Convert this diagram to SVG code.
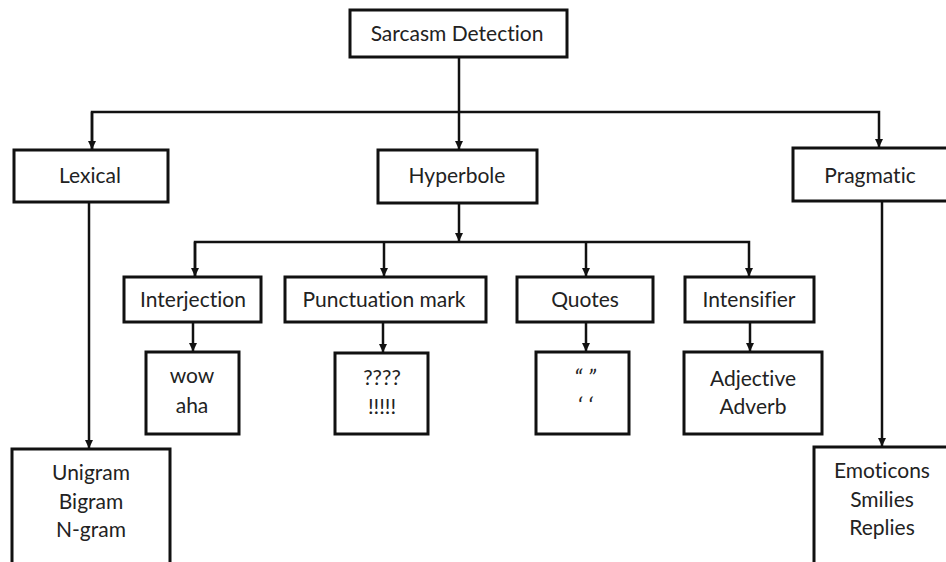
<svg xmlns="http://www.w3.org/2000/svg" width="946" height="562" viewBox="0 0 946 562">
<style>
.box{fill:#fff;stroke:#111;stroke-width:3}
.ln{fill:none;stroke:#111;stroke-width:2.5}
.t{font-family:Lato,"Open Sans","Liberation Sans",sans-serif;font-size:21px;fill:#222;text-anchor:middle;font-variant-ligatures:none;font-feature-settings:"liga" 0}
.q{font-style:italic;font-size:24px}
</style>
<defs>
<marker id="a" markerUnits="userSpaceOnUse" markerWidth="9" markerHeight="9" refX="8" refY="4.5" orient="auto" viewBox="0 0 9 9">
<path d="M0,0.5 L8.5,4.5 L0,8.5 Z" fill="#111"/>
</marker>
</defs>
<rect width="946" height="562" fill="#fff"/>
<g id="connectors">
<line class="ln" x1="459" y1="57" x2="459" y2="149" marker-end="url(#a)"/>
<polyline class="ln" points="92,149 92,112 879,112 879,147" marker-end="url(#a)"/>
<line class="ln" x1="92" y1="112" x2="92" y2="149" marker-end="url(#a)"/>
<line class="ln" x1="89" y1="202" x2="89" y2="448" marker-end="url(#a)"/>
<line class="ln" x1="882" y1="201" x2="882" y2="446" marker-end="url(#a)"/>
<line class="ln" x1="459" y1="203" x2="459" y2="241" marker-end="url(#a)"/>
<polyline class="ln" points="195,276 195,242 749,242 749,276" marker-end="url(#a)"/>
<line class="ln" x1="195" y1="242" x2="195" y2="276" marker-end="url(#a)"/>
<line class="ln" x1="384" y1="242" x2="384" y2="276" marker-end="url(#a)"/>
<line class="ln" x1="586" y1="242" x2="586" y2="276" marker-end="url(#a)"/>
<line class="ln" x1="193" y1="322" x2="193" y2="351" marker-end="url(#a)"/>
<line class="ln" x1="383" y1="322" x2="383" y2="352" marker-end="url(#a)"/>
<line class="ln" x1="586" y1="322" x2="586" y2="351" marker-end="url(#a)"/>
<line class="ln" x1="750" y1="322" x2="750" y2="351" marker-end="url(#a)"/>
</g>
<g id="sarcasm"><rect class="box" x="350" y="10" width="217" height="47"/><text class="t" x="457" y="41">Sarcasm Detection</text></g>
<g id="lexical"><rect class="box" x="14" y="150" width="154" height="52"/><text class="t" x="90" y="183">Lexical</text></g>
<g id="hyperbole"><rect class="box" x="378" y="150" width="159" height="53"/><text class="t" x="457" y="183">Hyperbole</text></g>
<g id="pragmatic"><rect class="box" x="793" y="148" width="160" height="53"/><text class="t" x="870" y="183">Pragmatic</text></g>
<g id="interjection"><rect class="box" x="124" y="277" width="137" height="45"/><text class="t" x="193" y="307">Interjection</text></g>
<g id="punctuation"><rect class="box" x="285" y="277" width="201" height="45"/><text class="t" x="384" y="307">Punctuation mark</text></g>
<g id="quotes"><rect class="box" x="517" y="277" width="136" height="45"/><text class="t" x="585" y="307">Quotes</text></g>
<g id="intensifier"><rect class="box" x="685" y="277" width="129" height="45"/><text class="t" x="749" y="307">Intensifier</text></g>
<g id="wow"><rect class="box" x="146" y="352" width="93" height="82"/><text class="t" x="192" y="383">wow</text><text class="t" x="192" y="413">aha</text></g>
<g id="marks"><rect class="box" x="335" y="353" width="93" height="81"/><text class="t" x="382" y="385">????</text><text class="t" x="382" y="414">!!!!!</text></g>
<g id="quotemarks"><rect class="box" x="536" y="352" width="93" height="82"/><text class="t q" x="585" y="386">“ ”</text><text class="t q" x="585" y="414">‘ ‘</text></g>
<g id="adjective"><rect class="box" x="684" y="352" width="138" height="82"/><text class="t" x="753" y="386">Adjective</text><text class="t" x="753" y="414">Adverb</text></g>
<g id="ngram"><rect class="box" x="12" y="449" width="158" height="120"/><text class="t" x="91" y="480">Unigram</text><text class="t" x="91" y="509">Bigram</text><text class="t" x="91" y="537">N-gram</text></g>
<g id="emoticons"><rect class="box" x="814" y="447" width="140" height="122"/><text class="t" x="882" y="478">Emoticons</text><text class="t" x="882" y="507">Smilies</text><text class="t" x="882" y="535">Replies</text></g>
</svg>
